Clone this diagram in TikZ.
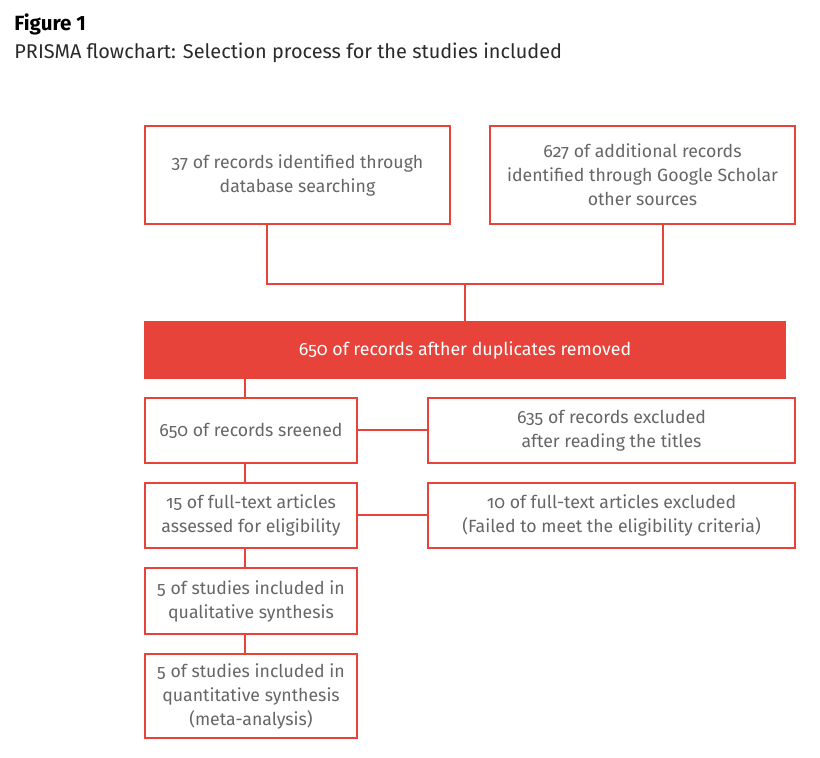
\documentclass[tikz,border=0pt]{standalone}
\usepackage{fontspec}
\setmainfont{Fira Sans}
\newfontfamily\boxfont[Numbers=OldStyle]{Fira Sans}
\usetikzlibrary{positioning}
\definecolor{prismared}{HTML}{E8433A}
\definecolor{prismagray}{HTML}{666666}
\definecolor{titlegray}{HTML}{2A2A2A}
\tikzset{
  recbox/.style={draw=prismared, line width=1pt, fill=white, text=prismagray,
    align=center, inner sep=0pt, font=\boxfont\fontsize{8.85}{12}\selectfont},
  link/.style={draw=prismared, line width=1pt}
}

\begin{document}
\begin{tikzpicture}[x=0.5pt,y=-0.5pt]
  \useasboundingbox (0,0) rectangle (820,758);
  % title
  \node[anchor=base west, inner sep=0pt, font=\bfseries\fontsize{10.3}{12}\selectfont] (fig) at (14,31) {Figure 1};
  \node[anchor=base west, inner sep=0pt, text=titlegray, font=\fontsize{9.95}{12}\selectfont] (caption) at (14,59) {PRISMA flowchart: Selection process for the studies included};
  % identification
  \node[recbox, minimum width=152.5pt, minimum height=49pt] (db) at (297.5,175.5) {37 of records identified through\\database searching};
  \node[recbox, minimum width=152.5pt, minimum height=49pt] (gs) at (642.5,175) {627 of additional records\\identified through Google Scholar\\other sources};
  % duplicates removed
  \node[recbox, fill=prismared, text=white, minimum width=320pt, minimum height=28pt,
    font=\boxfont\fontsize{8.9}{12}\selectfont] (bar) at (465,350) {650 of records afther duplicates removed};
  % screening
  \node[recbox, minimum width=106pt, minimum height=32.5pt] (screened) at (251,430.5) {650 of records sreened};
  \node[recbox, minimum width=183.5pt, minimum height=32.5pt] (excl1) at (611.5,430.5) {635 of records excluded\\after reading the titles};
  % eligibility
  \node[recbox, minimum width=106pt, minimum height=32.5pt] (fulltext) at (251,515.5) {15 of full-text articles\\assessed for eligibility};
  \node[recbox, minimum width=183.5pt, minimum height=32.5pt] (excl2) at (611.5,515.5) {10 of full-text articles excluded\\(Failed to meet the eligibility criteria)};
  % included
  \node[recbox, minimum width=106pt, minimum height=33pt] (qual) at (251,601) {5 of studies included in\\qualitative synthesis};
  \node[recbox, minimum width=106pt, minimum height=42pt] (quant) at (251,696) {5 of studies included in\\quantitative synthesis\\(meta-analysis)};
  % joining the two sources
  \coordinate (jl) at (267,284);
  \coordinate (jr) at (663,284);
  \coordinate (jm) at (465,284);
  \draw[link] (jl |- db.south) -- (jl) -- (jr) -- (jr |- gs.south);
  \draw[link] (jm) -- (jm |- bar.north);
  % main line down the left
  \coordinate (spine) at (245,0);
  \foreach \a/\b in {bar/screened, screened/fulltext, fulltext/qual, qual/quant}
    \draw[link] (spine |- \a.south) -- (spine |- \b.north);
  % exclusions
  \draw[link] (screened.east) -- (excl1.west);
  \draw[link] (fulltext.east) -- (excl2.west);
\end{tikzpicture}
\end{document}
